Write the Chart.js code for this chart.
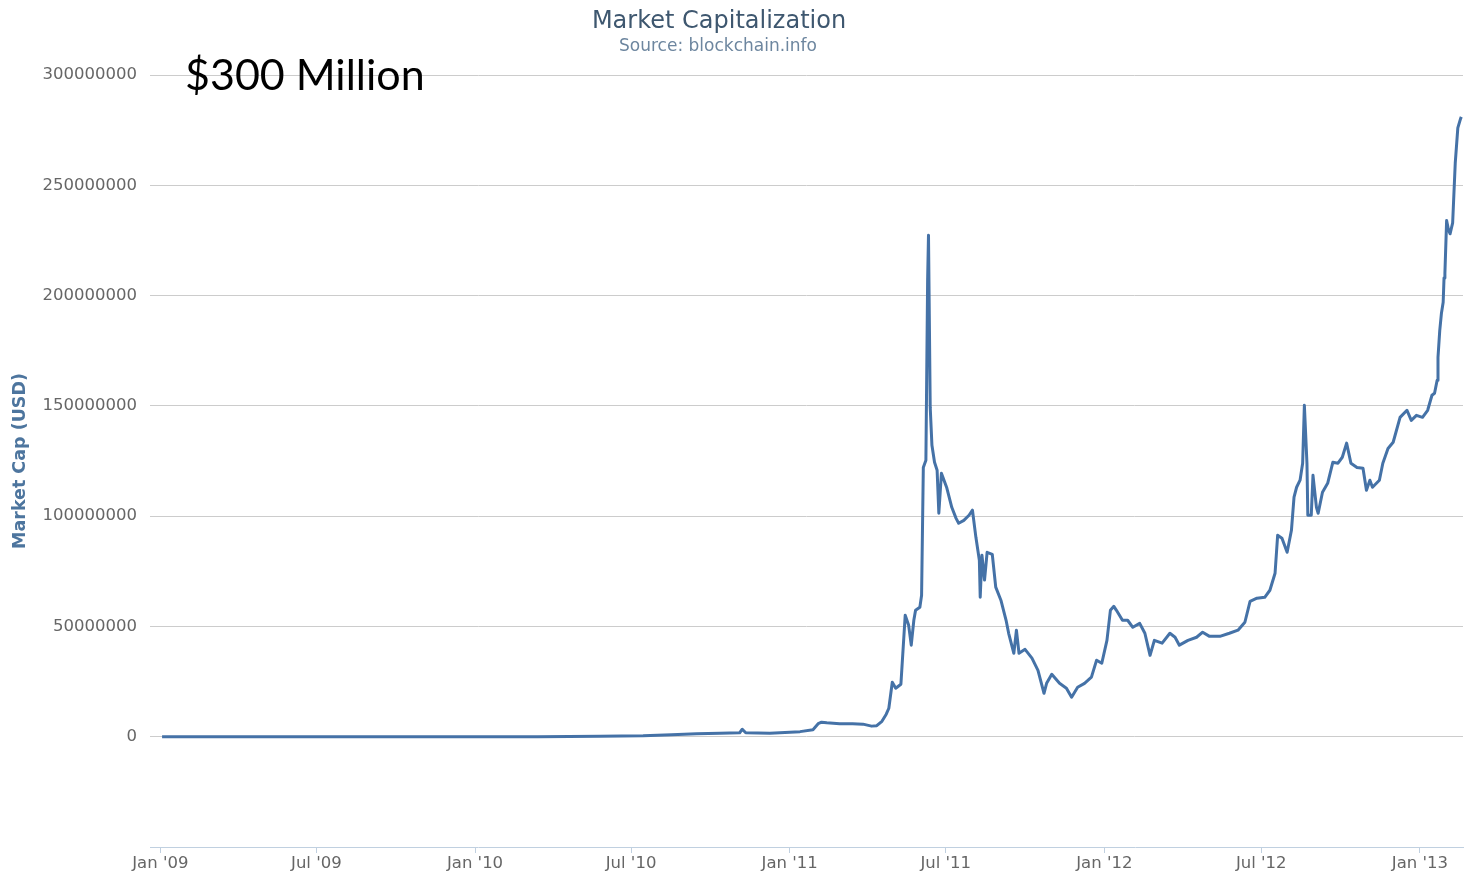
<!DOCTYPE html>
<html>
<head>
<meta charset="utf-8">
<title>Market Capitalization</title>
<script src="https://cdn.jsdelivr.net/npm/chart.js@4/dist/chart.umd.min.js"></script>
<style>
  html, body { margin: 0; padding: 0; background: #fff; }
  #chart { display: block; }
</style>
</head>
<body>
<canvas id="chart" width="1464" height="873"></canvas>
<script>
// Market cap (values in millions of USD)
const dates = [
    '2009-01-03', '2009-04-01', '2009-07-01', '2009-10-01', '2010-01-01', '2010-03-15',
    '2010-05-26', '2010-07-15', '2010-08-17', '2010-09-15', '2010-10-12', '2010-11-04',
    '2010-11-07', '2010-11-11', '2010-12-09', '2011-01-13', '2011-01-28', '2011-02-03',
    '2011-02-07', '2011-02-13', '2011-02-28', '2011-03-15', '2011-03-27', '2011-04-06',
    '2011-04-12', '2011-04-18', '2011-04-23', '2011-04-26', '2011-04-30', '2011-05-04',
    '2011-05-10', '2011-05-15', '2011-05-19', '2011-05-22', '2011-05-25', '2011-05-27',
    '2011-06-01', '2011-06-03', '2011-06-05', '2011-06-08', '2011-06-10', '2011-06-11',
    '2011-06-12', '2011-06-13', '2011-06-15', '2011-06-18', '2011-06-21', '2011-06-23',
    '2011-06-26', '2011-07-02', '2011-07-08', '2011-07-13', '2011-07-16', '2011-07-22',
    '2011-07-28', '2011-08-01', '2011-08-05', '2011-08-09', '2011-08-10', '2011-08-12',
    '2011-08-15', '2011-08-18', '2011-08-24', '2011-08-28', '2011-09-03', '2011-09-09',
    '2011-09-12', '2011-09-18', '2011-09-21', '2011-09-24', '2011-10-01', '2011-10-09',
    '2011-10-16', '2011-10-23', '2011-10-26', '2011-11-01', '2011-11-10', '2011-11-18',
    '2011-11-24', '2011-12-01', '2011-12-09', '2011-12-17', '2011-12-23', '2011-12-29',
    '2012-01-04', '2012-01-08', '2012-01-12', '2012-01-15', '2012-01-22', '2012-01-28',
    '2012-02-03', '2012-02-11', '2012-02-17', '2012-02-23', '2012-02-28', '2012-03-08',
    '2012-03-17', '2012-03-23', '2012-03-28', '2012-04-07', '2012-04-17', '2012-04-24',
    '2012-05-02', '2012-05-14', '2012-05-25', '2012-06-04', '2012-06-12', '2012-06-18',
    '2012-06-26', '2012-07-05', '2012-07-11', '2012-07-17', '2012-07-20', '2012-07-25',
    '2012-07-31', '2012-08-05', '2012-08-08', '2012-08-11', '2012-08-15', '2012-08-18',
    '2012-08-20', '2012-08-23', '2012-08-24', '2012-08-28', '2012-08-30', '2012-09-03',
    '2012-09-05', '2012-09-10', '2012-09-16', '2012-09-22', '2012-09-28', '2012-10-03',
    '2012-10-08', '2012-10-13', '2012-10-20', '2012-10-27', '2012-10-31', '2012-11-04',
    '2012-11-07', '2012-11-15', '2012-11-19', '2012-11-25', '2012-12-01', '2012-12-09',
    '2012-12-17', '2012-12-22', '2012-12-28', '2013-01-04', '2013-01-10', '2013-01-15',
    '2013-01-18', '2013-01-21', '2013-01-22', '2013-01-24', '2013-01-26', '2013-01-28',
    '2013-01-29', '2013-01-30', '2013-02-01', '2013-02-03', '2013-02-05', '2013-02-08',
    '2013-02-11', '2013-02-14', '2013-02-17', '2013-02-18'
];

const marketCapMillions = [
    0, 0, 0, 0, 0, 0,
    0.2, 0.4, 0.9, 1.3, 1.6, 1.8,
    3.4, 1.8, 1.6, 2.3, 3.2, 5.9,
    6.6, 6.3, 5.9, 5.9, 5.7, 4.8,
    5.0, 7.0, 10.2, 12.9, 24.7, 22.0,
    23.8, 55.1, 50.5, 41.5, 52.8, 57.3,
    58.7, 64.1, 122.1, 125.3, 206.9, 227.3,
    188.8, 149.3, 132.1, 124.4, 120.8, 101.3,
    119.4, 113.1, 104.0, 99.0, 96.8, 98.1,
    100.4, 102.7, 90.4, 80.0, 63.2, 82.3,
    71.0, 83.6, 82.7, 67.8, 61.9, 52.8,
    46.9, 37.8, 48.3, 37.8, 39.6, 35.6,
    30.1, 19.7, 24.2, 28.3, 24.2, 22.0,
    17.9, 22.4, 24.2, 27.0, 34.7, 33.3,
    43.7, 57.3, 59.1, 57.3, 52.8, 52.8,
    49.6, 51.4, 46.9, 36.9, 43.7, 42.4,
    46.9, 45.1, 41.5, 43.7, 45.1, 47.4,
    45.5, 45.5, 46.9, 48.3, 51.9, 61.4,
    62.8, 63.2, 66.4, 74.1, 91.3, 90.0,
    83.6, 93.6, 108.6, 113.1, 116.3, 124.0,
    150.3, 124.0, 100.4, 100.4, 118.5, 104.0,
    101.3, 110.8, 114.9, 124.4, 124.0, 126.7,
    133.1, 124.0, 122.1, 121.7, 111.7, 116.3,
    113.1, 116.3, 124.0, 130.7, 133.5, 144.8,
    148.0, 143.4, 145.7, 144.8, 148.0, 154.8,
    155.7, 161.6, 172, 184, 192, 197,
    208, 210, 234, 230, 228, 233,
    260, 276, 280, 281
];

const xTickDates = ['2009-01-01', '2009-07-01', '2010-01-01', '2010-07-01', '2011-01-01',
    '2011-07-01', '2012-01-01', '2012-07-01', '2013-01-01'];
const xTickLabels = ["Jan '09", "Jul '09", "Jan '10", "Jul '10", "Jan '11",
    "Jul '11", "Jan '12", "Jul '12", "Jan '13"];
const xRange = ['2008-12-20', '2013-02-20'];
const yRange = [-50000000, 300000000];
const yStep = 50000000;

const points = dates.map((d, i) => ({ x: Date.parse(d), y: marketCapMillions[i] * 1e6 }));

// titles and the pasted-on "$300 Million" caption
const headerText = {
    id: 'headerText',
    afterDraw(chart) {
        const ctx = chart.ctx;
        ctx.save();
        ctx.textBaseline = 'alphabetic';
        ctx.textAlign = 'center';
        ctx.fillStyle = '#3E576F';
        ctx.font = '24px "DejaVu Sans"';
        ctx.fillText('Market Capitalization', 719, 28);
        ctx.fillStyle = '#6D869F';
        ctx.font = '17px "DejaVu Sans"';
        ctx.fillText('Source: blockchain.info', 718, 51);
        ctx.textAlign = 'left';
        ctx.fillStyle = '#000';
        ctx.font = '43px Lato';
        ctx.fillText('$300 Million', 185, 90);
        ctx.restore();
    }
};

const ctx = document.getElementById('chart').getContext('2d');
new Chart(ctx, {
    type: 'line',
    data: {
        datasets: [{
            label: 'Market Cap',
            data: points,
            borderColor: '#4572A7',
            borderWidth: 3,
            pointRadius: 0,
            tension: 0,
            borderJoinStyle: 'round',
            fill: false
        }]
    },
    options: {
        responsive: false,
        animation: false,
        devicePixelRatio: 1,
        layout: { padding: { top: 75, right: 1, left: 0, bottom: 0 } },
        plugins: {
            legend: { display: false },
            tooltip: { enabled: false }
        },
        scales: {
            x: {
                type: 'linear',
                min: Date.parse(xRange[0]),
                max: Date.parse(xRange[1]),
                afterBuildTicks: scale => {
                    scale.ticks = xTickDates.map(d => ({ value: Date.parse(d) }));
                },
                afterFit: scale => { scale.height = 26; },
                ticks: {
                    autoSkip: false,
                    maxRotation: 0,
                    padding: 1,
                    color: '#666',
                    font: { family: 'DejaVu Sans', size: 16.5 },
                    callback: (value, index) => xTickLabels[index]
                },
                grid: {
                    drawOnChartArea: false,
                    drawTicks: true,
                    tickLength: 6,
                    color: '#C0D0E0'
                },
                border: { display: true, color: '#C0D0E0', width: 1 }
            },
            y: {
                min: yRange[0],
                max: yRange[1],
                afterFit: scale => { scale.width = 150; },
                ticks: {
                    stepSize: yStep,
                    padding: 13,
                    color: '#666',
                    font: { family: 'DejaVu Sans', size: 16.5 },
                    callback: value => (value < 0 ? '' : String(value))
                },
                grid: {
                    drawTicks: false,
                    color: c => (c.tick && c.tick.value < 0 ? 'rgba(0,0,0,0)' : '#CCCCCC'),
                    lineWidth: 1
                },
                border: { display: false },
                title: {
                    display: true,
                    text: 'Market Cap (USD)',
                    color: '#4D759E',
                    font: { family: 'DejaVu Sans', size: 17.5, weight: 'bold' },
                    padding: { top: 10, bottom: 0 }
                }
            }
        }
    },
    plugins: [headerText]
});
</script>
</body>
</html>
